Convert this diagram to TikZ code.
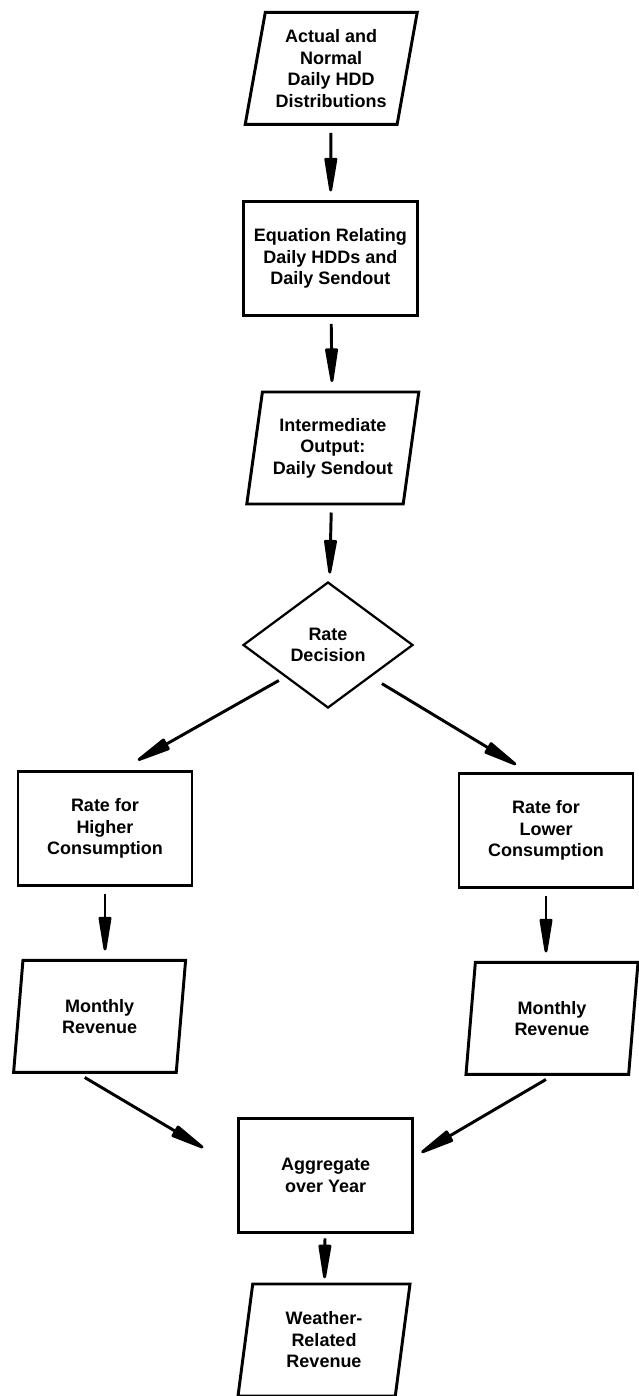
\documentclass[tikz,border=0pt]{standalone}
\usepackage{fontspec}
\setmainfont{Liberation Sans}
\usetikzlibrary{shapes.geometric, arrows.meta}

\begin{document}
\begin{tikzpicture}[
    every node/.style={font={\fontsize{12.8}{15.3}\selectfont\bfseries}, align=center},
    proc/.style={draw, line width=2.1pt, rectangle, minimum width=4.35cm, minimum height=2.85cm},
    data/.style={draw, line width=2.1pt, trapezium, trapezium left angle=76, trapezium right angle=104,
        trapezium stretches body, minimum width=4.3cm, minimum height=2.8cm, inner sep=1pt},
    choice/.style={draw, line width=1.6pt, diamond, minimum width=4.25cm, minimum height=3.15cm, inner sep=0pt},
    flow/.style={-{Triangle[length=30pt, width=9pt, round]}, line width=2.1pt, shorten <=5pt, shorten >=6pt},
]
    \useasboundingbox (0,0) rectangle (15.975,-34.9);

    \node[data](hdd)                at (8.28,-1.71)   {Actual and\\Normal\\Daily HDD\\Distributions};
    \node[proc](eqn)                at (8.26,-6.46)   {Equation Relating\\Daily HDDs and\\Daily Sendout};
    \node[data](sendout)            at (8.32,-11.2)   {Intermediate\\Output:\\Daily Sendout};
    \node[choice](decide)           at (8.2,-16.125)  {Rate\\Decision};
    \node[proc](hirate)             at (2.625,-20.71) {Rate for\\Higher\\Consumption};
    \node[proc](lorate)             at (13.65,-20.76) {Rate for\\Lower\\Consumption};
    \node[data](hirev)              at (2.49,-25.41)  {Monthly\\Revenue};
    \node[data](lorev)              at (13.8,-25.46)  {Monthly\\Revenue};
    \node[proc](agg)                at (8.14,-29.39)  {Aggregate\\over Year};
    \node[data](weather)            at (8.1,-33.5)    {Weather-\\Related\\Revenue};

    \path
        (hdd)
            edge [flow] (eqn)
        (eqn)
            edge [flow] (sendout)
        (sendout)
            edge [flow] (decide)
        % the two rates
        (decide.south west)
            edge [flow, shorten >=14pt] (hirate.75)
        (decide.south east)
            edge [flow, shorten <=9pt, shorten >=10pt] (lorate.107)
        (hirate.south)
            edge [flow] (hirate.south |- hirev.north)
        (lorate.south)
            edge [flow] (lorate.south |- lorev.north)
        % summed up over the year
        (hirev.250)
            edge [flow, shorten >=28pt] (agg.175)
        (lorev.south)
            edge [flow] (agg.12)
        (agg)
            edge [flow, shorten <=3pt, shorten >=3pt] (weather)
        ;
\end{tikzpicture}
\end{document}
